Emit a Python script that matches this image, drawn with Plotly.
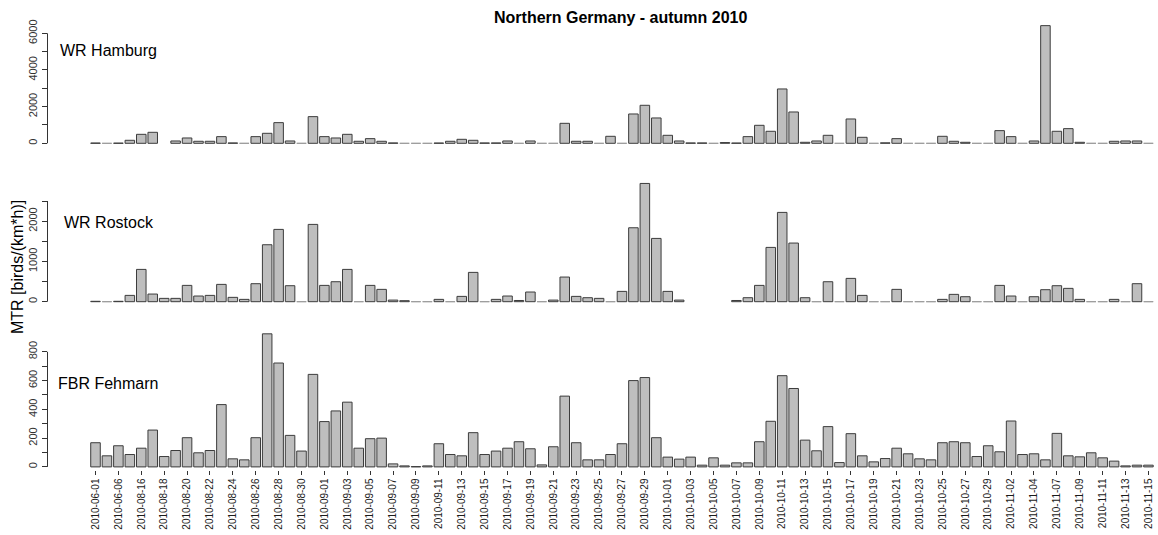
import plotly.graph_objects as go

W, H = 1158, 535

# Survey nights (categories on the shared x axis)
dates = [
    "2010-06-01", "2010-06-05", "2010-06-06", "2010-08-15",
    "2010-08-16", "2010-08-17", "2010-08-18", "2010-08-19", "2010-08-20",
    "2010-08-21", "2010-08-22", "2010-08-23", "2010-08-24", "2010-08-25",
    "2010-08-26", "2010-08-27", "2010-08-28", "2010-08-29", "2010-08-30",
    "2010-08-31", "2010-09-01", "2010-09-02", "2010-09-03", "2010-09-04",
    "2010-09-05", "2010-09-06", "2010-09-07", "2010-09-08", "2010-09-09",
    "2010-09-10", "2010-09-11", "2010-09-12", "2010-09-13", "2010-09-14",
    "2010-09-15", "2010-09-16", "2010-09-17", "2010-09-18", "2010-09-19",
    "2010-09-20", "2010-09-21", "2010-09-22", "2010-09-23", "2010-09-24",
    "2010-09-25", "2010-09-26", "2010-09-27", "2010-09-28", "2010-09-29",
    "2010-09-30", "2010-10-01", "2010-10-02", "2010-10-03", "2010-10-04",
    "2010-10-05", "2010-10-06", "2010-10-07", "2010-10-08", "2010-10-09",
    "2010-10-10", "2010-10-11", "2010-10-12", "2010-10-13", "2010-10-14",
    "2010-10-15", "2010-10-16", "2010-10-17", "2010-10-18", "2010-10-19",
    "2010-10-20", "2010-10-21", "2010-10-22", "2010-10-23", "2010-10-24",
    "2010-10-25", "2010-10-26", "2010-10-27", "2010-10-28", "2010-10-29",
    "2010-10-31", "2010-11-02", "2010-11-03", "2010-11-04", "2010-11-05",
    "2010-11-07", "2010-11-08", "2010-11-09", "2010-11-10", "2010-11-11",
    "2010-11-12", "2010-11-13", "2010-11-14", "2010-11-15",
]

# Nightly migration traffic rate, birds/(km*h); None = no measurement
hamburg = [
    15, 0, 10, 164, 490, 600, None, 127, 290, 110,
    110, 364, 20, 0, 364, 545, 1127, 127, 0, 1455,
    364, 290, 490, 110, 255, 110, 20, 0, 0, 0,
    15, 110, 218, 164, 20, 20, 127, 0, 127, 0,
    0, 1090, 110, 110, 0, 382, 0, 1600, 2073, 1382,
    436, 127, 20, 20, 0, 40, 15, 364, 982, 655,
    2964, 1709, 55, 127, 436, 0, 1327, 327, 0, 25,
    255, 0, 0, 0, 382, 110, 55, 0, 0, 691,
    364, 0, 127, 6418, 655, 800, 55, 0, 0, 110,
    127, 127, 0,
]

rostock = [
    10, 0, 10, 157, 802, 190, 83, 83, 405, 141,
    157, 430, 108, 58, 447, 1414, 1795, 397, 0, 1919,
    405, 496, 802, 0, 405, 306, 40, 25, 0, 0,
    58, 0, 132, 728, 0, 58, 141, 30, 240, 0,
    40, 612, 132, 99, 83, 0, 256, 1836, 2936, 1571,
    256, 40, None, None, None, None, 30, 99, 405, 1348,
    2217, 1456, 99, 0, 496, 0, 579, 157, 0, 0,
    306, 0, 0, 0, 58, 182, 124, 0, 0, 405,
    141, 0, 124, 298, 397, 331, 58, 0, 0, 58,
    0, 447, 0,
]

fehmarn = [
    168, 77, 147, 86, 130, 256, 72, 114, 203, 98,
    114, 433, 56, 49, 203, 925, 722, 219, 110, 643,
    315, 389, 450, 130, 196, 200, 21, 7, 2, 7,
    161, 86, 77, 238, 86, 110, 130, 175, 126, 14,
    140, 492, 168, 49, 49, 86, 161, 600, 621, 203,
    68, 54, 68, 12, 63, 12, 28, 28, 175, 317,
    634, 545, 186, 112, 280, 30, 231, 77, 35, 58,
    130, 91, 56, 49, 168, 175, 168, 72, 147, 105,
    319, 86, 91, 49, 233, 77, 70, 98, 63, 40,
    7, 12, 12,
]

station_names = ["WR Hamburg", "WR Rostock", "FBR Fehmarn"]
series = [hamburg, rostock, fehmarn]
ytick_values = [
    [0, 1000, 2000, 3000, 4000, 5000, 6000],
    [0, 500, 1000, 1500, 2000, 2500],
    [0, 100, 200, 300, 400, 500, 600, 700, 800],
]
ytick_labels = [
    ["0", "", "2000", "", "4000", "", "6000"],
    ["0", "", "1000", "", "2000", ""],
    ["0", "", "200", "", "400", "", "600", "", "800"],
]

# Panel geometry in pixels: baseline, pixel of top tick, panel top, panel bottom
panel_px = [
    dict(zero=143.3, top_tick=33.3, dom_top=20.0, dom_bot=148.0, label_y=50),
    dict(zero=301.7, top_tick=201.0, dom_top=178.0, dom_bot=306.0, label_y=222),
    dict(zero=466.9, top_tick=351.8, dom_top=328.0, dom_bot=469.5, label_y=383),
]
label_x = [58, 62, 56]

# Horizontal geometry: first bar centre, slot pitch, left edge of plotting area
x_first, pitch, x_left = 95.5, 11.445, 47.5
x_dom = [x_left / W, 1.0]
x_range = [(x_left - x_first) / pitch, (W - x_first) / pitch]

FONT = "Liberation Sans, Arial, Helvetica, sans-serif"
BAR_FILL = "#bebebe"
EDGE = "#3c3c3c"
EDGE_ZERO = "#9a9a9a"
TXT = "#1a1a1a"
YTXT = "#333333"

fig = go.Figure()
layout_axes = {}
shapes = []
annotations = []

for i, (name, vals, tv, tt, px) in enumerate(
        zip(station_names, series, ytick_values, ytick_labels, panel_px)):
    ykey = "y" if i == 0 else f"y{i + 1}"
    ylay = "yaxis" if i == 0 else f"yaxis{i + 1}"

    # zero-height bars still show their outline along the baseline
    drawn = [None if v is None else (v if v != 0 else 1e-3) for v in vals]
    edge_cols = [EDGE_ZERO if v == 0 else EDGE for v in vals]

    fig.add_trace(go.Bar(
        x=dates, y=drawn, xaxis="x", yaxis=ykey, name=name,
        marker=dict(color=BAR_FILL, line=dict(color=edge_cols, width=1)),
        showlegend=False, hoverinfo="x+y",
    ))

    ppv = (px["zero"] - px["top_tick"]) / tv[-1]
    r0 = -(px["dom_bot"] - px["zero"]) / ppv
    r1 = (px["zero"] - px["dom_top"]) / ppv
    layout_axes[ylay] = dict(
        domain=[1 - px["dom_bot"] / H, 1 - px["dom_top"] / H],
        range=[r0, r1], anchor="x",
        tickmode="array", tickvals=tv, ticktext=tt,
        ticks="outside", ticklen=5, tickwidth=1, tickcolor="#333333",
        tickangle=-90, tickfont=dict(family=FONT, size=11, color=YTXT),
        showgrid=False, zeroline=False, showline=False,
        automargin=False, fixedrange=True,
    )
    # axis line runs from the first to the last tick only
    shapes.append(dict(
        type="line", xref="x domain", yref=ykey,
        x0=0, x1=0, y0=tv[0], y1=tv[-1],
        line=dict(color="#333333", width=1),
    ))
    annotations.append(dict(
        text=name, xref="paper", yref="paper",
        x=label_x[i] / W, y=1 - px["label_y"] / H,
        xanchor="left", yanchor="middle", showarrow=False,
        font=dict(family=FONT, size=16, color="#000000"),
    ))

annotations.append(dict(
    text="<b>Northern Germany - autumn 2010</b>", xref="paper", yref="paper",
    x=620.5 / W, y=1 - 17 / H, xanchor="center", yanchor="middle",
    showarrow=False, font=dict(family=FONT, size=16, color="#000000"),
))
annotations.append(dict(
    text="MTR [birds/(km*h)]", xref="paper", yref="paper",
    x=17 / W, y=1 - 267 / H, xanchor="center", yanchor="middle",
    textangle=-90, showarrow=False,
    font=dict(family=FONT, size=16, color="#000000"),
))

fig.update_layout(
    width=W, height=H,
    margin=dict(l=0, r=0, t=0, b=0),
    paper_bgcolor="white", plot_bgcolor="white",
    barmode="overlay", bargap=1 - 1 / 1.2,
    showlegend=False,
    xaxis=dict(
        type="category", domain=x_dom, range=x_range, anchor="y3",
        tickmode="array", tickvals=dates[::2], ticktext=dates[::2],
        ticks="outside", ticklen=4, tickwidth=1, tickcolor="#333333",
        tickangle=-90, tickfont=dict(family=FONT, size=10, color=TXT),
        showgrid=False, zeroline=False, showline=False,
        automargin=False, fixedrange=True,
    ),
    shapes=shapes,
    annotations=annotations,
    **layout_axes,
)

fig.write_html("out.html")
